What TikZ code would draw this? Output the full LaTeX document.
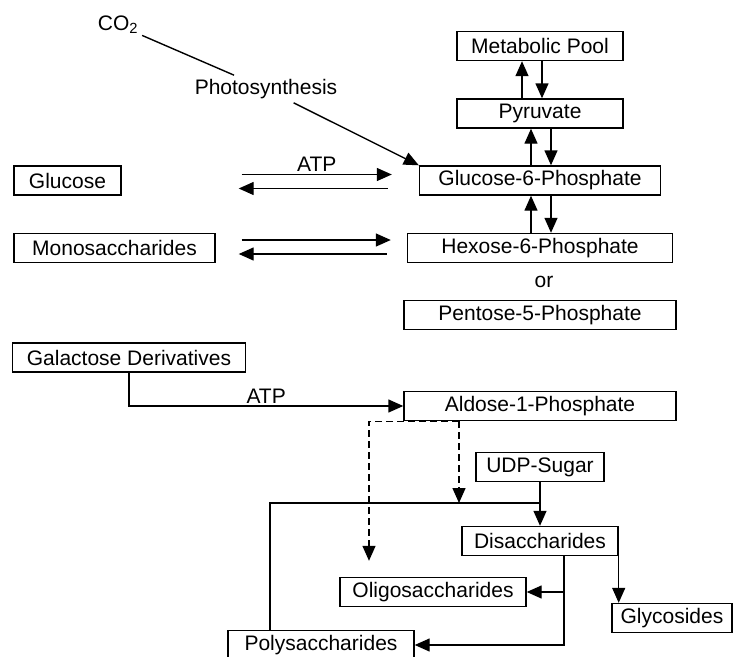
\documentclass[tikz,border=0pt]{standalone}
\usepackage{fontspec}
\setmainfont{Liberation Sans}
\usetikzlibrary{arrows.meta}

\begin{document}
\begin{tikzpicture}[x=1pt,y=-1pt,line width=1.4pt,
   every node/.style={font=\fontsize{21}{25}\selectfont},
   box/.style={draw,inner sep=0pt,minimum height=29pt},
   weak/.style={dashed,dash pattern=on 7pt off 4pt},
   >={Triangle[length=15pt,width=13pt]}]
   \useasboundingbox (0,0) rectangle (733,656);
   \foreach \n/\x/\y/\w/\t in
     { pool/540/46/166/{Metabolic Pool},
       pyr/540/113.5/166/{Pyruvate},
       g6p/540/180.5/241/{Glucose-6-Phosphate},
       hex/540/248/265/{Hexose-6-Phosphate},
       pent/540/315/272/{Pentose-5-Phosphate},
       ald/540/406/272/{Aldose-1-Phosphate},
       glc/67.5/180.5/107/{Glucose},
       mono/114.5/248/201/{Monosaccharides},
       gal/129/357.5/233/{Galactose Derivatives},
       udp/540/467/128/{UDP-Sugar},
       di/540/541/156/{Disaccharides},
       oli/433/592/186/{Oligosaccharides},
       gly/672/618/120/{Glycosides},
       poly/321/645/186/{Polysaccharides}
     }
     \node[box,minimum width=\w pt] (\n) at (\x,\y) {\t};
   \node (co2) at (118,25) {CO\textsubscript{2}};
   \node (photo) at (266,89) {Photosynthesis};
   \node (or) at (544,282) {or};
   \coordinate (knot) at (540,503);
   % photosynthesis
   \draw (co2) -- (photo);
   \draw[->] (photo) -- (g6p.north west);
   % up and down the main column
   \foreach \a/\b/\s in {pyr/pool/18, g6p/pyr/9, hex/g6p/9} {
     \draw[->] ([xshift=-\s]\a.north) -- ([xshift=-\s]\b.south);
     \draw[->] ([xshift=20-\s]\b.south) -- ([xshift=20-\s]\a.north);
   }
   % free sugars
   \draw[->] ([xshift=120,yshift=6]glc.east) -- ([xshift=-27,yshift=6]g6p.west)
     node[midway,above,inner sep=2pt] {ATP};
   \draw[<-] ([xshift=117,yshift=-8]glc.east) -- ([xshift=-31,yshift=-8]g6p.west);
   \draw[->] ([xshift=26,yshift=8]mono.east) -- ([xshift=-16,yshift=8]hex.west);
   \draw[<-] ([xshift=23,yshift=-6]mono.east) -- ([xshift=-20,yshift=-6]hex.west);
   \draw[->] (gal.south) |- (ald.west) node[pos=0.75,above,inner sep=2pt] {ATP};
   % aldose phosphate onwards
   \draw[->,weak] ([xshift=-81]ald.south) -- ([xshift=-81]ald.south |- knot);
   \draw[->,weak,shorten >=16pt] ([xshift=-81]ald.south) -| ([xshift=-64]oli.north);
   \draw[->] (udp) -- (di);
   \draw ([xshift=-51]poly.north) |- (knot);
   \draw[->] ([xshift=24]di.south) |- (oli.east);
   \draw[->] ([xshift=24]di.south) |- (poly.east);
   \draw[->] (di.south east) -- (di.south east |- gly.north);
\end{tikzpicture}
\end{document}
